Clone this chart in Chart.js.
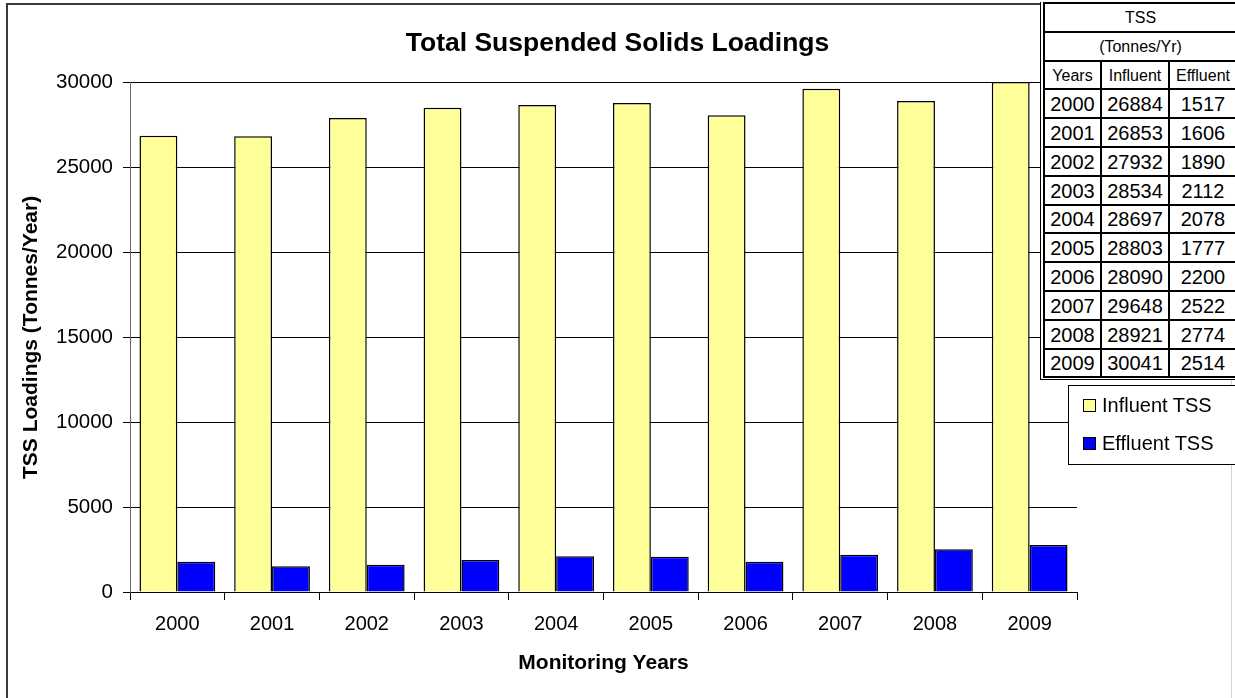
<!DOCTYPE html>
<html>
<head>
<meta charset="utf-8">
<script src="https://cdn.jsdelivr.net/npm/chart.js@4.4.1/dist/chart.umd.min.js"></script>
<style>
  html, body { margin: 0; padding: 0; background: #fff; }
  body { width: 1235px; height: 698px; position: relative; overflow: hidden; font-family: 'Liberation Sans', Arial, sans-serif; }
  #frame { position: absolute; left: 6px; top: 3px; width: 1226px; height: 720px; border-left: 2px solid #3a3a3a; border-top: 2px solid #3a3a3a; border-right: 1px solid #d4d4d4; box-sizing: border-box; }
  #c { position: absolute; left: 0; top: 0; }
  #tblWrap { position: absolute; left: 1040px; top: 2px; border-left: 1px solid #000; border-bottom: 1px solid #000; padding-left: 2px; padding-bottom: 1px; background: #fff; }
  #tbl { display: grid; grid-template-columns: 55px 66px 66px; grid-auto-rows: 26.8px; gap: 2px; padding: 2px; background: #000; }
  #tbl div { background: #fff; display: flex; align-items: center; justify-content: center; color: #000; padding-top: 2px; box-sizing: border-box; }
  #tbl .span { grid-column: 1 / span 3; font-size: 16px; }
  #tbl .hd { font-size: 16px; }
  #tbl .dt { font-size: 20px; }
  #legend { position: absolute; left: 1068px; top: 385px; width: 170px; height: 80px; border: 1px solid #000; background: #fff; box-sizing: border-box; }
  .li { position: absolute; left: 14px; height: 24px; display: flex; align-items: center; font-size: 20px; color: #000; }
  .sw { width: 11px; height: 11px; border: 1px solid #000; margin-right: 6px; }
</style>
</head>
<body>
<div id="frame"></div>
<canvas id="c" width="1235" height="698"></canvas>
<div id="tblWrap"><div id="tbl"></div></div>
<div id="legend"></div>
<script>
// ---- data ----
const years = ['2000','2001','2002','2003','2004','2005','2006','2007','2008','2009'];
const influentTSS = [26884, 26853, 27932, 28534, 28697, 28803, 28090, 29648, 28921, 30041];
// effluent bar heights as drawn in the chart
const effluentTSS = [1777, 1517, 1606, 1890, 2112, 2078, 1777, 2200, 2522, 2774];
// values printed in the side table
const tableInfluent = [26884, 26853, 27932, 28534, 28697, 28803, 28090, 29648, 28921, 30041];
const tableEffluent = [1517, 1606, 1890, 2112, 2078, 1777, 2200, 2522, 2774, 2514];
const seriesNames = ['Influent TSS', 'Effluent TSS'];
const seriesColors = ['#FFFF99', '#0000FF'];

Chart.defaults.font.family = "'Liberation Sans', Arial, sans-serif";
Chart.defaults.color = '#000';

const chart = new Chart(document.getElementById('c'), {
  type: 'bar',
  data: {
    labels: years,
    datasets: [
      { label: seriesNames[0], data: influentTSS, backgroundColor: seriesColors[0], borderColor: '#000', borderWidth: 1.5, categoryPercentage: 0.8, barPercentage: 1.0, yAxisID: 'y' },
      { label: seriesNames[1], data: effluentTSS, backgroundColor: seriesColors[1], borderColor: '#000', borderWidth: 1.5, categoryPercentage: 0.8, barPercentage: 1.0, yAxisID: 'y' }
    ]
  },
  options: {
    responsive: false,
    animation: false,
    devicePixelRatio: 1,
    layout: { padding: { left: 0, right: 0, top: 0, bottom: 0 } },
    plugins: {
      legend: { display: false },
      tooltip: { enabled: false },
      title: {
        display: true,
        text: 'Total Suspended Solids Loadings',
        color: '#000',
        font: { size: 26.5, weight: 'bold' },
        padding: { top: 28, bottom: 23 }
      }
    },
    scales: {
      x: {
        grid: { offset: true, drawOnChartArea: false, drawTicks: true, tickLength: 8, color: '#000' },
        border: { color: '#000' },
        ticks: { font: { size: 20 }, padding: 12, maxRotation: 0, color: '#000' },
        title: { display: true, text: 'Monitoring Years', font: { size: 21, weight: 'bold' }, color: '#000', padding: { top: 0, bottom: 22 } },
        afterFit: s => { s.height = 106; }
      },
      y: {
        position: 'left',
        min: 0, max: 30000,
        grid: { color: '#000', tickLength: 7 },
        border: { color: '#666' },
        ticks: { stepSize: 5000, font: { size: 20.5 }, padding: 10, color: '#000', callback: v => String(v) },
        title: { display: true, text: 'TSS Loadings (Tonnes/Year)', font: { size: 21, weight: 'bold' }, color: '#000', padding: { top: 19, bottom: 0 } },
        afterFit: s => { s.width = 130; }
      },
      side: {
        position: 'right',
        display: true,
        grid: { display: false, drawTicks: false },
        border: { display: false },
        ticks: { display: false },
        afterFit: s => { s.width = 158; }
      }
    }
  }
});

// side table
const tbl = document.getElementById('tbl');
function cell(text, cls) { const d = document.createElement('div'); d.className = cls; d.textContent = text; tbl.appendChild(d); }
cell('TSS', 'span');
cell('(Tonnes/Yr)', 'span');
cell('Years', 'hd'); cell('Influent', 'hd'); cell('Effluent', 'hd');
years.forEach((y, i) => { cell(y, 'dt'); cell(String(tableInfluent[i]), 'dt'); cell(String(tableEffluent[i]), 'dt'); });

// legend from datasets
const lg = document.getElementById('legend');
chart.data.datasets.forEach((ds, i) => {
  const it = document.createElement('div');
  it.className = 'li';
  it.style.top = (7 + i * 38) + 'px';
  const sw = document.createElement('span');
  sw.className = 'sw';
  sw.style.background = ds.backgroundColor;
  it.appendChild(sw);
  it.appendChild(document.createTextNode(ds.label));
  lg.appendChild(it);
});
</script>
</body>
</html>
